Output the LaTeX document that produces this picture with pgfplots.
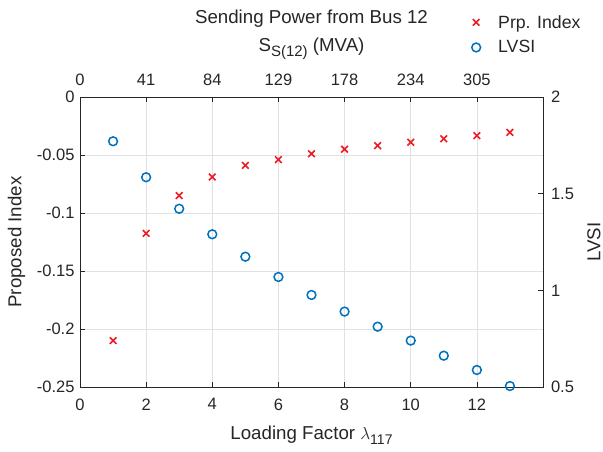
\documentclass[border=0pt]{standalone}
\usepackage{pgfplots}
\pgfplotsset{compat=1.18}
\usepackage{pgfplotstable}
\usepackage{fontspec}
\setmainfont{Liberation Sans}
\definecolor{mtext}{RGB}{38,38,38}
\definecolor{mred}{RGB}{235,28,36}
\definecolor{mblue}{RGB}{0,114,189}
\definecolor{mgrid}{RGB}{225,225,225}

\pgfplotstableread{
x y
1 -0.210
2 -0.1175
3 -0.085
4 -0.069
5 -0.059
6 -0.054
7 -0.049
8 -0.045
9 -0.042
10 -0.039
11 -0.036
12 -0.0333
13 -0.0305
}\prp

\pgfplotstableread{
x y
1 1.771
2 1.585
3 1.422
4 1.290
5 1.174
6 1.069
7 0.976
8 0.890
9 0.812
10 0.740
11 0.662
12 0.588
13 0.505
}\lvsi

\begin{document}
\begin{tikzpicture}
\path[use as bounding box] (-80pt,-65pt) rectangle (523pt,387pt);
\pgfplotsset{
  every axis/.append style={
    at={(0,0)}, anchor=south west,
    width=463pt, height=290pt, scale only axis,
    xmin=0, xmax=14,
    font=\fontsize{16.5}{19}\selectfont,
    /pgf/number format/assume math mode=true,
    axis line style={mtext, line width=0.7pt},
    tick style={mtext, line width=0.7pt},
    major tick length=5pt,
    tick align=inside,
    ticklabel style={text=mtext},
    label style={text=mtext, font=\fontsize{18.7}{22}\selectfont},
  },
  mylegimg/.style={legend image code/.code={%
    \path[draw=none, fill=none] (-6pt,0pt) -- (20pt,0pt);
    \draw[##1] plot coordinates {(0pt,0pt)};}},
}
\begin{axis}[
  ymin=-0.25, ymax=0,
  xtick={0,2,4,6,8,10,12},
  xticklabels={0,2,4,6,8,10,12},
  xtick pos=bottom,
  ytick={-0.25,-0.2,-0.15,-0.1,-0.05,0},
  yticklabels={-0.25,-0.2,-0.15,-0.1,-0.05,0},
  ytick pos=left,
  xticklabel style={yshift=-8pt},
  yticklabel style={xshift=-2pt},
  grid=major,
  major grid style={mgrid, line width=0.7pt},
  xlabel={Loading Factor $\lambda$\raisebox{-0.45ex}{\fontsize{14}{14}\selectfont 117}},
  xlabel style={at={(rel axis cs:0.5,0)}, anchor=base, yshift=-53pt},
  ylabel={Proposed Index},
  ylabel style={at={(rel axis cs:0,0.5)}, anchor=center, yshift=63.5pt},
]
\addplot[only marks, mark=x, mark size=4.7pt, mred, line width=1.6pt] table[x=x,y=y] {\prp};
\end{axis}
\begin{axis}[
  ymin=0.5, ymax=2,
  xtick={0,2,4,6,8,10,12},
  xticklabels={0,41,84,129,178,234,305},
  xtick pos=top,
  ytick={0.5,1,1.5,2},
  yticklabels={0.5,1,1.5,2},
  ytick pos=right,
  xticklabel pos=top,
  yticklabel pos=right,
  xticklabel style={anchor=base, yshift=11pt},
  yticklabel style={xshift=4.5pt},
  title={Sending Power from Bus 12},
  title style={at={(rel axis cs:0.5,1)}, anchor=base, yshift=67pt, text=mtext, font=\fontsize{18.7}{22}\selectfont},
  xlabel={S\raisebox{-0.5ex}{\fontsize{15}{15}\selectfont S(12)} (MVA)},
  xlabel style={at={(rel axis cs:0.5,1)}, anchor=base, yshift=45pt},
  ylabel={LVSI},
  ylabel style={at={(rel axis cs:1,0.5)}, anchor=center, yshift=-51pt},
  legend style={draw=none, fill=none, at={(rel axis cs:1,1)}, anchor=north west,
    xshift=-76pt, yshift=86pt,
    font=\fontsize{17.7}{20}\selectfont, text=mtext, row sep=7pt,
    nodes={inner sep=2pt}},
  legend cell align=left,
]
\addlegendimage{only marks, mark=x, mark size=4.7pt, mred, line width=1.6pt, mylegimg}
\addlegendentry{Prp. Index}
\addplot[only marks, mark=o, mark size=4.4pt, mblue, line width=1.5pt, mylegimg] table[x=x,y=y] {\lvsi};
\addlegendentry{LVSI}
\end{axis}
\end{tikzpicture}
\end{document}
